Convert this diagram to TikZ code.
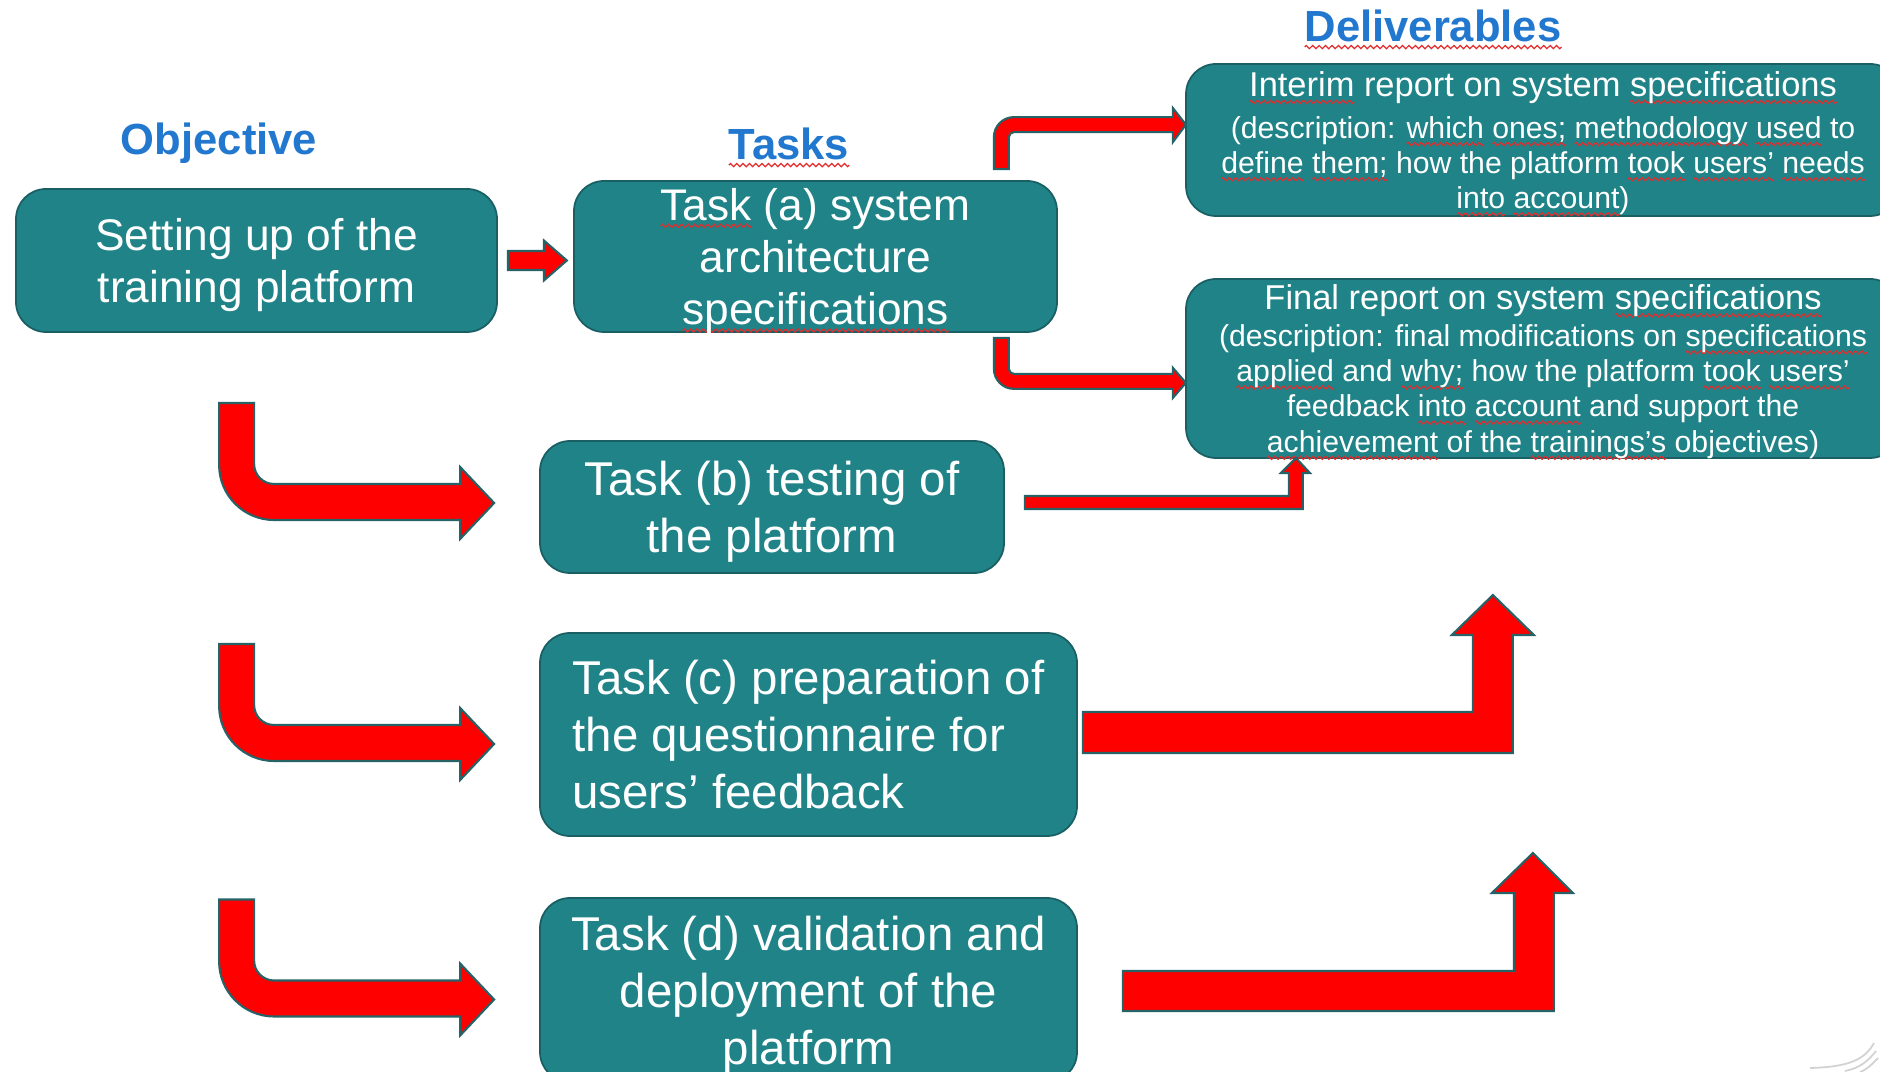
\documentclass[tikz,border=0pt]{standalone}
\usepackage{fontspec}
\setmainfont{Liberation Sans}
\usetikzlibrary{calc}

\definecolor{boxteal}{RGB}{32,131,136}
\definecolor{boxedge}{RGB}{26,95,99}
\definecolor{arrowred}{RGB}{255,0,0}
\definecolor{arrowedge}{RGB}{38,98,102}
\definecolor{headblue}{RGB}{33,120,206}
\definecolor{spellred}{RGB}{225,45,45}

\newsavebox{\wavebox}
\newsavebox{\spellbox}
\newcommand{\spell}[1]{\sbox{\spellbox}{#1}\rlap{\lower1.6pt\hbox to \wd\spellbox{\xleaders\copy\wavebox\hfill}}\usebox{\spellbox}}

\tikzset{
  heading/.style={text=headblue, font=\fontsize{12.4}{14}\selectfont\bfseries},
  cell/.style={draw=boxedge, line width=0.5pt, fill=boxteal, rounded corners=0.3cm,
    text=white, inner sep=0pt, align=center, text depth=0pt},
  bigtext/.style={font=\fontsize{12.6}{14.9}\selectfont},
  largetext/.style={font=\fontsize{13.5}{16.2}\selectfont},
  smalltext/.style={font=\fontsize{8.6}{10}\selectfont},
  blockarrow/.style={fill=arrowred, draw=arrowedge, line width=0.6pt, line join=miter}
}

\begin{document}
\sbox{\wavebox}{\begin{pgfpicture}
  \pgfpathmoveto{\pgfpointorigin}
  \pgfpathsine{\pgfpoint{0.45pt}{0.45pt}}
  \pgfpathcosine{\pgfpoint{0.45pt}{-0.45pt}}
  \pgfpathsine{\pgfpoint{0.45pt}{-0.45pt}}
  \pgfpathcosine{\pgfpoint{0.45pt}{0.45pt}}
  \pgfsetstrokecolor{spellred}
  \pgfsetlinewidth{0.35pt}
  \pgfusepath{stroke}
  \pgfresetboundingbox
  \pgfpathrectanglecorners{\pgfpointorigin}{\pgfpoint{1.8pt}{0pt}}
  \pgfusepath{use as bounding box}
\end{pgfpicture}}%
\begin{tikzpicture}
\useasboundingbox (0,0) rectangle (18.800,10.710);
\clip (0,0) rectangle (18.800,10.710);

\node[heading] (objhead) at (2.190,9.275) {Objective};
\node[heading] (taskhead) at (7.890,9.245) {\spell{Tasks}};
\node[heading] (delhead) at (14.330,10.425) {\spell{Deliverables}};

\node[cell, bigtext, minimum width=4.810cm, minimum height=1.430cm] (objective) at (2.565,8.105)
  {Setting up of the\\training platform};
\node[cell, bigtext, minimum width=4.830cm, minimum height=1.510cm] (taska) at (8.155,8.145)
  {\spell{Task} (a) system\\architecture\\\spell{specifications}};
\node[cell, largetext, minimum width=4.640cm, minimum height=1.320cm] (taskb) at (7.720,5.640)
  {Task (b) testing of\\the platform};
\node[cell, largetext, align=left, minimum width=5.370cm, minimum height=2.030cm] (taskc) at (8.085,3.365)
  {Task (c) preparation of\\the questionnaire for\\users’ feedback};
\node[cell, largetext, minimum width=5.370cm, minimum height=1.840cm] (taskd) at (8.085,0.810)
  {Task (d) validation and\\deployment of the\\platform};

\node[cell, smalltext, minimum width=7.140cm, minimum height=1.520cm] (interim) at (15.430,9.310)
  {{\fontsize{9.8}{10}\selectfont \spell{Interim} report on system \spell{specifications}}\\[2pt]
   (description: \spell{which} \spell{ones;} \spell{methodology} \spell{used} to\\
   \spell{define} \spell{them;} how the platform \spell{took} \spell{users’} \spell{needs}\\
   \spell{into} \spell{account})};
\node[cell, smalltext, minimum width=7.140cm, minimum height=1.790cm] (final) at (15.430,7.025)
  {{\fontsize{9.8}{10}\selectfont Final report on system \spell{specifications}}\\[0.5pt]
   (description: final modifications on \spell{specifications}\\
   \spell{applied} and \spell{why;} how the platform \spell{took} \spell{users’}\\
   feedback \spell{into} \spell{account} and support the\\
   \spell{achievement} of the \spell{trainings’s} objectives)};

\begin{scope}[shift={(objective.east)}]
\draw[blockarrow] (0.100,0.095) -- (0.460,0.095) -- (0.460,0.200) -- (0.690,0) -- (0.460,-0.200) -- (0.460,-0.095) -- (0.100,-0.095) -- cycle;
\end{scope}

\begin{scope}[shift={(taska.north east)}]
\draw[blockarrow] (-0.640,0.110) -- (-0.640,0.430) arc[start angle=180, end angle=90, radius=0.200] -- (1.150,0.630) -- (1.150,0.720) -- (1.280,0.555) -- (1.150,0.380) -- (1.150,0.480) -- (-0.440,0.480) arc[start angle=90, end angle=180, radius=0.050] -- (-0.490,0.110) -- cycle;
\end{scope}
\begin{scope}[shift={(taska.south east)}]
\draw[blockarrow] (-0.640,-0.050) -- (-0.640,-0.360) arc[start angle=180, end angle=270, radius=0.200] -- (1.150,-0.560) -- (1.150,-0.650) -- (1.280,-0.500) -- (1.150,-0.350) -- (1.150,-0.410) -- (-0.440,-0.410) arc[start angle=270, end angle=180, radius=0.050] -- (-0.490,-0.050) -- cycle;
\end{scope}

\begin{scope}[shift={($(taskb.west)+(-3.200,1.040)$)}]
\draw[blockarrow] (0,0) -- (0,-0.620) arc[start angle=180, end angle=270, radius=0.550] -- (2.410,-1.170) -- (2.410,-1.360) -- (2.750,-1.000) -- (2.410,-0.640) -- (2.410,-0.810) -- (0.550,-0.810) arc[start angle=270, end angle=180, radius=0.200] -- (0.350,0) -- cycle;
\end{scope}
\begin{scope}[shift={($(taskc.west)+(-3.200,0.905)$)}]
\draw[blockarrow] (0,0) -- (0,-0.620) arc[start angle=180, end angle=270, radius=0.550] -- (2.410,-1.170) -- (2.410,-1.360) -- (2.750,-1.000) -- (2.410,-0.640) -- (2.410,-0.810) -- (0.550,-0.810) arc[start angle=270, end angle=180, radius=0.200] -- (0.350,0) -- cycle;
\end{scope}
\begin{scope}[shift={($(taskd.west)+(-3.200,0.905)$)}]
\draw[blockarrow] (0,0) -- (0,-0.620) arc[start angle=180, end angle=270, radius=0.550] -- (2.410,-1.170) -- (2.410,-1.360) -- (2.750,-1.000) -- (2.410,-0.640) -- (2.410,-0.810) -- (0.550,-0.810) arc[start angle=270, end angle=180, radius=0.200] -- (0.350,0) -- cycle;
\end{scope}

\begin{scope}[shift={(taskb.east)}]
\draw[blockarrow] (0.200,0.110) -- (2.840,0.110) -- (2.840,0.340) -- (2.760,0.340) -- (2.910,0.490) -- (3.050,0.340) -- (2.980,0.340) -- (2.980,-0.020) -- (0.200,-0.020) -- cycle;
\end{scope}
\begin{scope}[shift={(taskc.east)}]
\draw[blockarrow] (0.050,0.225) -- (3.950,0.225) -- (3.950,0.995) -- (3.740,0.995) -- (4.150,1.395) -- (4.560,0.995) -- (4.350,0.995) -- (4.350,-0.185) -- (0.050,-0.185) -- cycle;
\end{scope}
\begin{scope}[shift={(taskd.east)}]
\draw[blockarrow] (0.450,0.190) -- (4.360,0.190) -- (4.360,0.970) -- (4.140,0.970) -- (4.550,1.370) -- (4.950,0.970) -- (4.760,0.970) -- (4.760,-0.210) -- (0.450,-0.210) -- cycle;
\end{scope}

\draw[gray!35, line width=0.5pt] (18.100,0.030) .. controls (18.500,0.040) and (18.650,0.120) .. (18.740,0.280);
\draw[gray!35, line width=0.5pt] (18.450,0.000) .. controls (18.600,0.030) and (18.680,0.100) .. (18.760,0.200);
\draw[gray!35, line width=0.5pt] (18.600,-0.010) .. controls (18.680,0.020) and (18.720,0.070) .. (18.780,0.130);
\end{tikzpicture}
\end{document}
